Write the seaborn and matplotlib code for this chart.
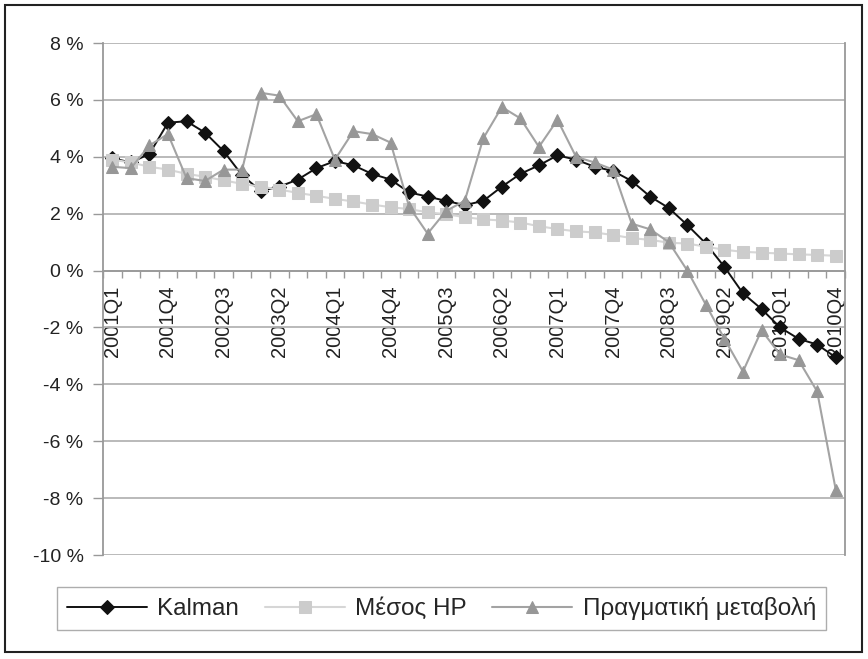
"""Kalman vs HP vs actual quarterly change, 2001Q1-2010Q4."""

import matplotlib.pyplot as plt
import numpy as np
import pandas as pd
import seaborn as sns
from matplotlib.patches import Rectangle
from matplotlib.ticker import FuncFormatter

sns.set_theme(style="white")
plt.rcParams["font.family"] = ["Liberation Sans", "DejaVu Sans"]

quarters = [f"{y}Q{q}" for y in range(2001, 2011) for q in range(1, 5)]
tick_labels = quarters[::3]

kalman = [3.95, 3.8, 4.1, 5.2, 5.25, 4.85, 4.2, 3.35, 2.8, 2.95,
          3.2, 3.6, 3.85, 3.7, 3.4, 3.2, 2.75, 2.6, 2.45, 2.3,
          2.45, 2.95, 3.4, 3.7, 4.05, 3.9, 3.65, 3.5, 3.15, 2.6,
          2.2, 1.6, 0.95, 0.13, -0.8, -1.35, -2.0, -2.4, -2.6, -3.05]
hp_mean = [3.9, 3.8, 3.65, 3.55, 3.4, 3.3, 3.17, 3.05, 2.95, 2.85,
           2.73, 2.63, 2.52, 2.43, 2.32, 2.23, 2.16, 2.05, 1.98, 1.88,
           1.8, 1.76, 1.69, 1.56, 1.46, 1.38, 1.34, 1.25, 1.14, 1.08,
           0.98, 0.95, 0.84, 0.73, 0.66, 0.63, 0.6, 0.57, 0.55, 0.52]
actual = [3.65, 3.6, 4.4, 4.8, 3.25, 3.15, 3.55, 3.55, 6.25, 6.15,
          5.25, 5.5, 3.9, 4.9, 4.8, 4.5, 2.25, 1.3, 2.1, 2.45,
          4.65, 5.75, 5.35, 4.35, 5.3, 4.0, 3.8, 3.55, 1.65, 1.45,
          1.0, 0.0, -1.2, -2.4, -3.55, -2.1, -2.95, -3.15, -4.25, -7.7]

df = pd.DataFrame({
    "pos": np.arange(len(quarters)),
    "Kalman": kalman,
    "Μέσος HP": hp_mean,
    "Πραγματική μεταβολή": actual,
})

fig = plt.figure(figsize=(8.68, 6.59), dpi=100)
ax = fig.add_axes([0.1187, 0.1578, 0.8548, 0.7769])

styles = {
    "Kalman": dict(color="#111111", marker="D", markersize=7.5, lw=1.4,
                   markeredgecolor="#111111", zorder=3),
    "Μέσος HP": dict(color="#d6d6d6", marker="s", markersize=8, lw=1.5,
                     markerfacecolor="#cccccc", markeredgecolor="#cccccc", zorder=4),
    "Πραγματική μεταβολή": dict(color="#a3a3a3", marker="^", markersize=9, lw=1.5,
                                 markerfacecolor="#979797", markeredgecolor="#979797",
                                 zorder=5),
}
for name, st in styles.items():
    sns.lineplot(data=df, x="pos", y=name, ax=ax, label=name, **st)

ax.set_xlim(-0.5, len(quarters) - 0.5)
ax.set_ylim(-10, 8)
ax.set_yticks(np.arange(-10, 9, 2))
ax.yaxis.set_major_formatter(FuncFormatter(lambda v, _: f"{v:.0f} %"))
ax.set_xticks(df["pos"][::3], tick_labels)
ax.set_xticks(np.arange(-0.5, len(quarters)), minor=True)
ax.tick_params(axis="x", which="major", length=0, pad=11, labelsize=14.5,
               labelcolor="#222222", labelrotation=90)
ax.tick_params(axis="x", which="minor", length=5, width=1, color="#999999",
               direction="out", bottom=True)
ax.tick_params(axis="y", length=7, width=1, color="#999999", direction="out",
               left=True, pad=7, labelsize=14, labelcolor="#222222")
ax.set_xlabel("")
ax.set_ylabel("")

ax.grid(axis="y", color="#b4b4b4", lw=1.3)
ax.set_axisbelow(True)
ax.spines["bottom"].set_position(("data", 0))
ax.spines["top"].set_visible(False)
for side in ["bottom", "left", "right"]:
    ax.spines[side].set_color("#999999")
    ax.spines[side].set_linewidth(1.3)

ax.get_legend().remove()
handles, labels = ax.get_legend_handles_labels()
fig.legend(handles, labels, loc="center", bbox_to_anchor=(0.5086, 0.0766),
           ncol=3, frameon=True, fancybox=False, edgecolor="#999999",
           fontsize=17.5, handlelength=3.3, handletextpad=0.42,
           columnspacing=1.05, borderpad=0.4)

fig.add_artist(Rectangle((0.006, 0.011), 0.987, 0.981, transform=fig.transFigure,
                         fill=False, edgecolor="#222222", lw=1.5))

fig.savefig("out.png", dpi=100)
